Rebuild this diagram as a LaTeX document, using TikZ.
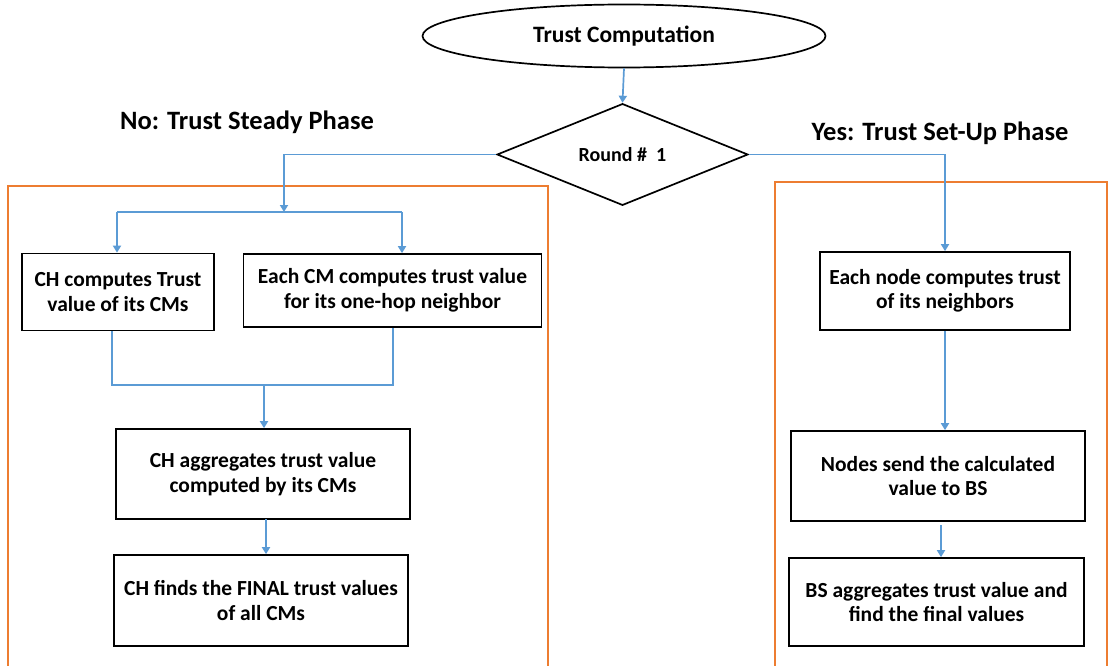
\documentclass[tikz,border=0pt]{standalone}
\usepackage{fontspec}
\setmainfont{Carlito}
\usetikzlibrary{shapes.geometric,arrows.meta}
\definecolor{flowblue}{RGB}{91,155,213}
\definecolor{phaseorange}{RGB}{237,125,49}
\begin{document}
\begin{tikzpicture}[x=1pt,y=-1pt,
  proc/.style={draw=black, line width=1.7pt, align=center, inner sep=0pt,
    font=\bfseries\fontsize{21.5}{24.5}\selectfont},
  flow/.style={draw=flowblue, line width=1.7pt},
  arr/.style={flow, -{Triangle[width=8pt,length=7pt]}},
  phasebox/.style={draw=phaseorange, line width=1.7pt},
  heading/.style={font=\bfseries\fontsize{26.5}{30}\selectfont}]
\useasboundingbox (0,0) rectangle (1108,666);
\fill[white] (0,0) rectangle (1108,666);

% phase frames
\draw[phasebox] (8,700) -- (8,186) -- (548,186) -- (548,700);
\draw[phasebox] (775,700) -- (775,182) -- (1107,182) -- (1107,700);

% headings
\node[heading] (nohead) at (247,122) {No: Trust Steady Phase};
\node[heading] (yeshead) at (940,133) {Yes: Trust Set-Up Phase};

% top of the flow
\node[ellipse, draw=black, line width=1.7pt, minimum width=403pt, minimum height=63pt,
  inner sep=0pt, font=\bfseries\fontsize{23.5}{26}\selectfont] (start) at (624,36) {Trust Computation};
\node[diamond, draw=black, line width=1.7pt, minimum width=251pt, minimum height=95pt,
  inner sep=0pt, font=\bfseries\fontsize{20}{22}\selectfont] (round) at (622.5,154.5) {Round \#\ \ 1};

% steady phase boxes
\node[proc, minimum width=192pt, minimum height=77pt] (chc) at (118,292) {CH computes Trust\\value of its CMs};
\node[proc, minimum width=298pt, minimum height=73pt] (ecm) at (392.5,290.5) {Each CM computes trust value\\for its one-hop neighbor};
\node[proc, minimum width=294pt, minimum height=90pt] (agg) at (263,474) {CH aggregates trust value\\computed by its CMs};
\node[proc, minimum width=294pt, minimum height=91pt] (fin) at (261,600.5) {CH finds the FINAL trust values\\of all CMs};

% set-up phase boxes
\node[proc, minimum width=250pt, minimum height=78pt] (nbr) at (945,291) {Each node computes trust\\of its neighbors};
\node[proc, minimum width=294pt, minimum height=90pt] (send) at (938,476) {Nodes send the calculated\\value to BS};
\node[proc, minimum width=295pt, minimum height=88pt] (bsagg) at (936.5,602) {BS aggregates trust value and\\find the final values};

% junction points
\coordinate (split) at (284,212);
\coordinate (bl) at (117,212);
\coordinate (br) at (402,212);
\coordinate (ml) at (112,385);
\coordinate (mr) at (393,385);
\coordinate (mm) at (264,385);
\coordinate (a1) at (266,519);
\coordinate (s3) at (941,525);

% connectors
\draw[arr] (start.south) -- (round.north);
\draw[arr] (round.west) -| (split);
\draw[flow] (bl) -- (br);
\draw[arr] (bl) -- (bl |- chc.north);
\draw[arr] (br) -- (br |- ecm.north);
\draw[flow] (ml |- chc.south) -- (ml) -- (mr) -- (mr |- ecm.south);
\draw[arr] (mm) -- (mm |- agg.north);
\draw[arr] (a1) -- (a1 |- fin.north);

\draw[arr] (round.east) -| (nbr.north);
\draw[arr] (nbr.south) -- (nbr.south |- send.north);
\draw[arr] (s3) -- (s3 |- bsagg.north);
\end{tikzpicture}
\end{document}
